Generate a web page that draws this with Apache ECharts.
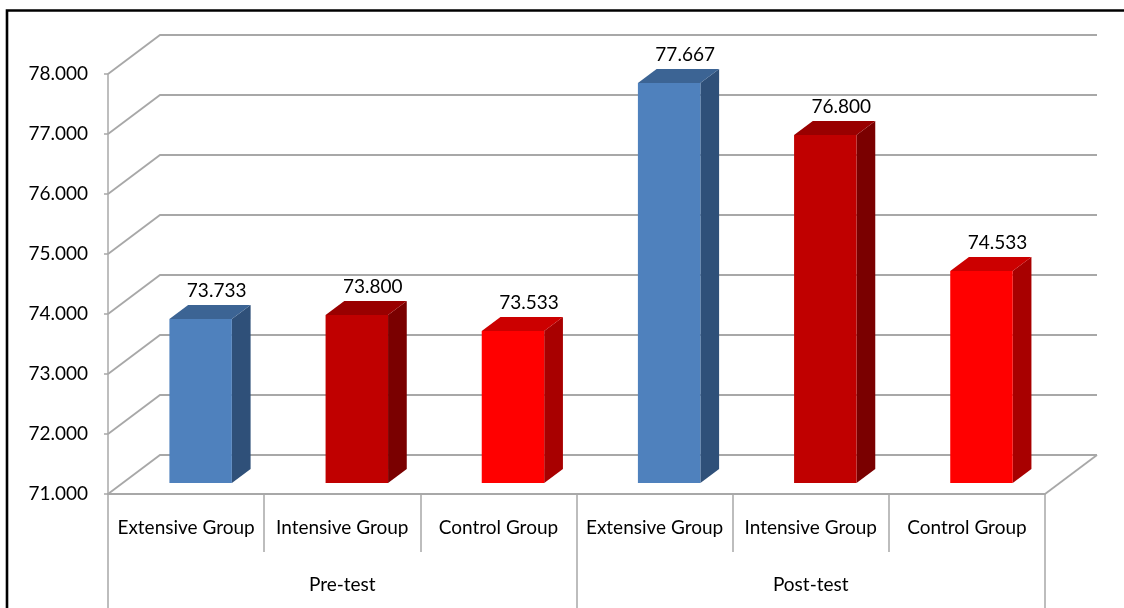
<!DOCTYPE html>
<html><head><meta charset="utf-8">
<script src="https://cdn.jsdelivr.net/npm/echarts@6/dist/echarts.min.js"></script>
<style>html,body{margin:0;padding:0;background:#fff}#c{width:1124px;height:608px}</style>
</head><body><div id="c"></div>
<script>
const categories = ['Extensive Group','Intensive Group','Control Group','Extensive Group','Intensive Group','Control Group'];
const phases = ['Pre-test','Post-test'];
const values = [73.733, 73.800, 73.533, 77.667, 76.800, 74.533];
const yTicks = [71, 72, 73, 74, 75, 76, 77, 78];
const Y_MIN = 71, Y_MAX = 78;

// colours per group: [front, side, top]
const palette = [
  ['#4F81BD', '#2F5079', '#3C6494'],
  ['#C00000', '#7A0000', '#990000'],
  ['#FF0000', '#A80000', '#CC0000']
];
const DX = 52, DY = -39;   // depth offset of the 3D wall
const GRID_COLOR = '#a8a8a8';
const FONT = 'Lato';
const FS = 19;

const chart = echarts.init(document.getElementById('c'), null, {renderer: 'canvas'});

const barData = values.map((v, i) => [i, v, i % 3]);
const gridData = yTicks.map(v => [0, v]);

chart.setOption({
  animation: false,
  backgroundColor: '#fff',
  grid: {left: 108, right: 79, top: 74, bottom: 114},
  xAxis: [{
    type: 'category',
    data: categories,
    position: 'bottom',
    axisLine: {show: true, lineStyle: {color: GRID_COLOR, width: 1.8}},
    axisTick: {show: true, alignWithLabel: false, interval: 0, length: 58, lineStyle: {color: GRID_COLOR, width: 1.5}},
    axisLabel: {interval: 0, margin: 24, fontSize: FS, fontFamily: FONT, color: '#000'},
    splitLine: {show: false}
  }, {
    type: 'category',
    data: phases,
    position: 'bottom',
    offset: 0,
    axisLine: {show: false},
    axisTick: {show: true, alignWithLabel: false, interval: 0, length: 114, lineStyle: {color: GRID_COLOR, width: 1.5}},
    axisLabel: {interval: 0, margin: 81, fontSize: FS, fontFamily: FONT, color: '#000'},
    splitLine: {show: false}
  }],
  yAxis: {
    type: 'value',
    min: Y_MIN, max: Y_MAX, interval: 1,
    axisLine: {show: true, lineStyle: {color: GRID_COLOR, width: 1.5}},
    axisTick: {show: true, length: 4, lineStyle: {color: GRID_COLOR, width: 1.5}},
    axisLabel: {margin: 20, fontSize: FS, fontFamily: FONT, color: '#000', formatter: v => v.toFixed(3)},
    splitLine: {show: false}
  },
  graphic: [{
    type: 'rect', z: 100,
    shape: {x: 7, y: 10.5, width: 1400, height: 900},
    style: {fill: 'none', stroke: '#000', lineWidth: 2.6}
  }],
  series: [{
    type: 'custom',
    z: 1,
    clip: false,
    silent: true,
    data: gridData,
    renderItem: function (params, api) {
      const cs = params.coordSys;
      const v = api.value(1);
      const y = api.coord([0, v])[1];
      const style = {stroke: GRID_COLOR, lineWidth: 1.8, fill: 'none'};
      const children = [{
        type: 'polyline',
        shape: {points: [[cs.x, y], [cs.x + DX, y + DY], [cs.x + cs.width + DX, y + DY]]},
        style: style
      }];
      if (v === Y_MIN) {
        children.push({
          type: 'line',
          shape: {x1: cs.x + cs.width, y1: y, x2: cs.x + cs.width + DX, y2: y + DY},
          style: style
        });
      }
      return {type: 'group', children: children};
    }
  }, {
    type: 'custom',
    z: 5,
    clip: false,
    data: barData,
    renderItem: function (params, api) {
      const i = api.value(0), v = api.value(1), g = api.value(2);
      const col = palette[g];
      const base = api.coord([i, Y_MIN]);
      const top = api.coord([i, v]);
      const bw = api.size([1, 0])[0];
      const hw = bw * 0.2;
      const fx = DX * 0.28, fy = DY * 0.28;
      const ddx = DX * 0.36, ddy = DY * 0.36;
      const cx = base[0] + fx;
      const x0 = cx - hw, x1 = cx + hw;
      const yb = base[1] + fy, yt = top[1] + fy;
      return {
        type: 'group',
        children: [{
          type: 'polygon',
          shape: {points: [[x1, yt], [x1 + ddx, yt + ddy], [x1 + ddx, yb + ddy], [x1, yb]]},
          style: {fill: col[1]}
        }, {
          type: 'polygon',
          shape: {points: [[x0, yt], [x1, yt], [x1 + ddx, yt + ddy], [x0 + ddx, yt + ddy]]},
          style: {fill: col[2]}
        }, {
          type: 'rect',
          shape: {x: x0, y: yt, width: x1 - x0, height: yb - yt},
          style: {fill: col[0]}
        }, {
          type: 'text',
          x: cx + 16,
          y: yt + ddy - 14,
          style: {text: v.toFixed(3), fontSize: FS, fontFamily: FONT, fill: '#000', align: 'center', verticalAlign: 'middle'}
        }]
      };
    }
  }]
});
</script>
</body></html>
